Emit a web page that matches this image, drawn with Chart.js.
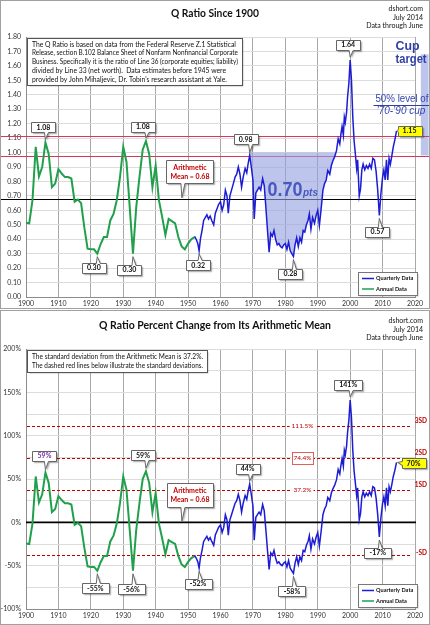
<!DOCTYPE html>
<html>
<head>
<meta charset="utf-8">
<script src="https://cdn.jsdelivr.net/npm/chart.js@4.4.1/dist/chart.umd.min.js"></script>
<style>
  body { margin: 0; background: #fff; }
  #wrap { position: relative; width: 430px; height: 625px; }
  canvas { position: absolute; left: 0; }
</style>
</head>
<body>
<div id="wrap">
  <canvas id="q-chart" width="430" height="309" style="top:0"></canvas>
  <canvas id="pct-chart" width="430" height="315" style="top:310px"></canvas>
</div>
<script>
const qCanvas = document.getElementById("q-chart");
const pctCanvas = document.getElementById("pct-chart");

// annual Q ratio (green, before 1952)
const annualYears = [1900, 1901, 1902, 1903, 1904, 1905, 1906, 1907, 1908, 1909,
    1910, 1911, 1912, 1913, 1914, 1915, 1916, 1917, 1918, 1919,
    1920, 1921, 1922, 1923, 1924, 1925, 1926, 1927, 1928, 1929,
    1930, 1931, 1932, 1933, 1934, 1935, 1936, 1937, 1938, 1939,
    1940, 1941, 1942, 1943, 1944, 1945, 1946, 1947, 1948, 1949,
    1950, 1951, 1952];
const annualQ = [0.515, 0.51, 0.67, 1.04, 0.835, 0.90, 1.07, 0.99, 0.76, 0.785,
    0.885, 0.855, 0.83, 0.83, 0.82, 0.66, 0.675, 0.65, 0.48, 0.335,
    0.33, 0.33, 0.30, 0.365, 0.415, 0.415, 0.53, 0.575, 0.67, 0.83,
    1.04, 0.935, 0.62, 0.30, 0.62, 0.83, 1.02, 1.08, 0.99, 0.76,
    0.91, 0.67, 0.555, 0.43, 0.54, 0.525, 0.51, 0.415, 0.35, 0.33,
    0.37, 0.40, 0.415];

// quarterly Q ratio (blue)
const quarterYears = [1952.0, 1952.5, 1953.0, 1953.4, 1953.8, 1954.3, 1954.8, 1955.3, 1955.8, 1956.3,
    1956.8, 1957.3, 1957.9, 1958.4, 1958.9, 1959.4, 1960.0, 1960.5, 1961.0, 1961.5,
    1962.0, 1962.4, 1962.9, 1963.4, 1963.9, 1964.5, 1965.0, 1965.5, 1966.0, 1966.5,
    1967.0, 1967.6, 1968.1, 1968.5, 1969.0, 1969.5, 1970.0, 1970.4, 1970.9, 1971.4,
    1971.9, 1972.4, 1973.0, 1973.5, 1974.0, 1974.5, 1975.0, 1975.5, 1976.0, 1976.5,
    1977.0, 1977.5, 1978.0, 1978.5, 1979.0, 1979.5, 1980.0, 1980.5, 1981.0, 1981.5,
    1982.0, 1982.5, 1983.0, 1983.5, 1984.0, 1984.5, 1985.0, 1985.5, 1986.0, 1986.5,
    1987.0, 1987.4, 1987.9, 1988.4, 1989.0, 1989.5, 1990.0, 1990.5, 1991.0, 1991.6,
    1992.1, 1992.6, 1993.1, 1993.7, 1994.2, 1994.7, 1995.2, 1995.8, 1996.3, 1996.8,
    1997.1, 1997.5, 1997.9, 1998.2, 1998.5, 1998.9, 1999.2, 1999.6, 2000.0, 2000.4,
    2000.8, 2001.2, 2001.6, 2002.0, 2002.3, 2002.8, 2003.2, 2003.6, 2004.0, 2004.5,
    2005.0, 2005.5, 2006.0, 2006.5, 2007.0, 2007.5, 2008.0, 2008.5, 2009.0, 2009.5,
    2010.0, 2010.4, 2010.8, 2011.2, 2011.6, 2012.0, 2012.4, 2012.8, 2013.3, 2013.8,
    2014.3];
const quarterQ = [0.42, 0.40, 0.37, 0.32, 0.40, 0.46, 0.53, 0.55, 0.57, 0.54,
    0.56, 0.53, 0.50, 0.58, 0.61, 0.64, 0.66, 0.60, 0.64, 0.74,
    0.70, 0.58, 0.70, 0.74, 0.78, 0.83, 0.85, 0.90, 0.85, 0.76,
    0.83, 0.89, 0.86, 0.92, 0.98, 0.90, 0.81, 0.54, 0.72, 0.74,
    0.76, 0.74, 0.82, 0.77, 0.62, 0.46, 0.31, 0.44, 0.42, 0.46,
    0.40, 0.36, 0.37, 0.35, 0.34, 0.36, 0.37, 0.33, 0.38, 0.32,
    0.30, 0.28, 0.36, 0.41, 0.35, 0.41, 0.38, 0.46, 0.45, 0.50,
    0.53, 0.575, 0.47, 0.55, 0.51, 0.565, 0.60, 0.495, 0.60, 0.74,
    0.785, 0.81, 0.875, 0.85, 0.91, 0.945, 0.97, 1.015, 1.095, 1.06,
    1.12, 1.18, 1.12, 1.245, 1.21, 1.28, 1.385, 1.48, 1.64, 1.50,
    1.25, 1.085, 0.99, 0.89, 0.95, 0.70, 0.75, 0.88, 0.92, 0.88,
    0.91, 0.89, 0.92, 0.89, 0.96, 0.95, 0.87, 0.74, 0.565, 0.72,
    0.83, 0.88, 0.81, 0.95, 0.81, 0.96, 0.92, 0.97, 1.04, 1.09,
    1.15];

const qMean = 0.68;
const cupYears = [1969.0, 1995.6];     // '70-'90 cup, left rim to right rim
const cupLevels = [0.98, 0.28];        // rim and bottom
const redLevels = [1.115, 0.975];
const sdLevels = [111.5, 74.4, 37.2, -37.2];
const sdNames = ["3SD", "2SD", "1SD", "-SD"];
const seriesNames = ["Quarterly Data", "Annual Data"];

const pctOf = v => (v / qMean - 1) * 100;
const annualPct = annualQ.map(pctOf);
const quarterPct = quarterQ.map(pctOf);
const pts = (xs, ys) => xs.map((x, i) => ({ x: x, y: ys[i] }));

const FONT = 'Lato, "Open Sans", sans-serif';
const ARIAL = '"Liberation Sans", Arial, sans-serif';
const GREEN = "#21a04c";
const BLUE = "#1c1cd6";
const SHADE = "rgba(150, 162, 224, 0.62)";
const DARKRED = "#c00000";

const qInfo = [
    "The Q Ratio is based on data from the Federal Reserve Z.1 Statistical",
    "Release, section B.102 Balance Sheet of Nonfarm Nonfinancial Corporate",
    "Business. Specifically it is the ratio of Line 36 (corporate equities; liability)",
    "divided by Line 33 (net worth).  Data estimates before 1945 were",
    "provided by John Mihaljevic, Dr. Tobin's research assistant at Yale."
];
const pctInfo = [
    "The standard deviation from the Arithmetic Mean is 37.2%.",
    "The dashed red lines below illustrate the standard deviations."
];

// callouts: anchor in data units, box offset in px
const qNotes = [
    { x: 1906, y: 1.07, t: "1.08", dx: -2, dy: -15 },
    { x: 1937, y: 1.08, t: "1.08", dx: -3, dy: -14 },
    { x: 1969, y: 0.98, t: "0.98", dx: -4, dy: -16 },
    { x: 2000, y: 1.64, t: "1.64", dx: -2, dy: -15 },
    { x: 2014.3, y: 1.15, t: "1.15", dx: 13, dy: 0, fill: "#ffff00", gap: 1 },
    { x: 1922, y: 0.30, t: "0.30", dx: -3.5, dy: 14 },
    { x: 1933, y: 0.30, t: "0.30", dx: -3.5, dy: 16.5 },
    { x: 1953.4, y: 0.32, t: "0.32", dx: -1, dy: 14.5 },
    { x: 1982.5, y: 0.28, t: "0.28", dx: -3, dy: 17 },
    { x: 2009, y: 0.565, t: "0.57", dx: -2, dy: 16.5 },
    { x: 1948.1, y: qMean, t: "Arithmetic\nMean = 0.68", dx: 8, dy: -27, color: DARKRED, w: 47, h: 23, gap: 1 }
];
const pctNotes = [
    { x: 1906, y: pctOf(1.07), t: "59%", dx: -1, dy: -17, color: "#7030a0" },
    { x: 1937, y: pctOf(1.08), t: "59%", dx: -3, dy: -16 },
    { x: 1969, y: pctOf(0.98), t: "44%", dx: -2, dy: -15 },
    { x: 2000, y: pctOf(1.64), t: "141%", dx: -2, dy: -15 },
    { x: 2014.3, y: pctOf(1.15), t: "70%", dx: 17, dy: 1, fill: "#ffff00", gap: 1 },
    { x: 1922, y: pctOf(0.30), t: "-55%", dx: -2, dy: 17.5 },
    { x: 1933, y: pctOf(0.30), t: "-56%", dx: -1.5, dy: 18.5 },
    { x: 1953.4, y: pctOf(0.32), t: "-52%", dx: -1, dy: 16 },
    { x: 1982.5, y: pctOf(0.28), t: "-58%", dx: -1.5, dy: 18 },
    { x: 2009, y: pctOf(0.565), t: "-17%", dx: -1.5, dy: 16 },
    { x: 1948.1, y: 0, t: "Arithmetic\nMean = 0.68", dx: 8, dy: -27, color: DARKRED, w: 46, h: 24, gap: 1 }
];

function callout(ctx, px, py, n) {
    const lines = n.t.split("\n");
    ctx.font = "bold 7px " + FONT;
    const w = n.w || Math.ceil(Math.max(...lines.map(s => ctx.measureText(s).width))) + 10;
    const h = n.h || lines.length * 8 + 2;
    const cx = px + n.dx, cy = py + n.dy;
    const L = Math.round(cx - w / 2) + 0.5, T = Math.round(cy - h / 2) + 0.5;
    const R = L + w, B = T + h;
    const gap = n.gap == null ? 3 : n.gap;
    ctx.beginPath();
    if (n.dy < -h / 2) {
        const bx = Math.min(Math.max(px - 1, L + 3), R - 7);
        ctx.moveTo(L, T); ctx.lineTo(R, T); ctx.lineTo(R, B);
        ctx.lineTo(bx + 4, B); ctx.lineTo(px, py - gap); ctx.lineTo(bx, B);
        ctx.lineTo(L, B);
    } else if (n.dy > h / 2) {
        const bx = Math.min(Math.max(px - 1, L + 3), R - 7);
        ctx.moveTo(L, T); ctx.lineTo(bx, T); ctx.lineTo(px, py + gap); ctx.lineTo(bx + 4, T);
        ctx.lineTo(R, T); ctx.lineTo(R, B); ctx.lineTo(L, B);
    } else {
        ctx.moveTo(L, T); ctx.lineTo(R, T); ctx.lineTo(R, B); ctx.lineTo(L, B);
        ctx.lineTo(L, cy + 2); ctx.lineTo(px + gap, py); ctx.lineTo(L, cy - 2);
    }
    ctx.closePath();
    ctx.save();
    ctx.shadowColor = "rgba(0,0,0,0.35)";
    ctx.shadowOffsetX = 1.5;
    ctx.shadowOffsetY = 1.5;
    ctx.shadowBlur = 1.5;
    ctx.fillStyle = n.fill || "#fff";
    ctx.fill();
    ctx.restore();
    ctx.strokeStyle = "#666";
    ctx.lineWidth = 1;
    ctx.stroke();
    ctx.fillStyle = n.color || "#111";
    ctx.textAlign = "center";
    ctx.textBaseline = "middle";
    lines.forEach((s, i) => ctx.fillText(s, cx, cy + (i - (lines.length - 1) / 2) * 9));
}

function textBox(ctx, L, T, W, H, lines, lh) {
    ctx.save();
    ctx.shadowColor = "rgba(0,0,0,0.35)";
    ctx.shadowOffsetX = 1.5;
    ctx.shadowOffsetY = 1.5;
    ctx.shadowBlur = 1.5;
    ctx.fillStyle = "#fff";
    ctx.fillRect(L, T, W, H);
    ctx.restore();
    ctx.strokeStyle = "#555";
    ctx.lineWidth = 1;
    ctx.strokeRect(L + 0.5, T + 0.5, W, H);
    ctx.fillStyle = "#111";
    ctx.font = "6.8px " + FONT;
    ctx.textAlign = "left";
    ctx.textBaseline = "middle";
    lines.forEach((s, i) => ctx.fillText(s, L + 5, T + 6.5 + i * lh, W - 9));
}

function headings(ctx, chart, title, ty, tw, ys) {
    ctx.fillStyle = "#111";
    ctx.textBaseline = "middle";
    ctx.textAlign = "center";
    ctx.font = "bold 11px " + FONT;
    ctx.fillText(title, chart.width / 2, ty, tw);
    ctx.textAlign = "right";
    ctx.font = "7px " + FONT;
    ["dshort.com", "July 2014", "Data through June"].forEach((s, i) => ctx.fillText(s, chart.width - 7, ys[i]));
}

function legendBox(ctx, chart, L, T) {
    ctx.save();
    ctx.shadowColor = "rgba(0,0,0,0.35)";
    ctx.shadowOffsetX = 1.5;
    ctx.shadowOffsetY = 1.5;
    ctx.shadowBlur = 1.5;
    ctx.fillStyle = "#fff";
    ctx.fillRect(L, T, 59, 23);
    ctx.restore();
    ctx.strokeStyle = "#777";
    ctx.lineWidth = 1;
    ctx.strokeRect(L + 0.5, T + 0.5, 59, 23);
    ctx.font = "bold 5.6px " + FONT;
    ctx.textAlign = "left";
    ctx.textBaseline = "middle";
    chart.data.datasets.slice(0, 2).forEach((ds, i) => {
        const yy = T + 6.5 + i * 10.5;
        ctx.strokeStyle = ds.borderColor;
        ctx.lineWidth = 1.5;
        ctx.beginPath();
        ctx.moveTo(L + 4, yy);
        ctx.lineTo(L + 16, yy);
        ctx.stroke();
        ctx.fillStyle = "#111";
        ctx.fillText(ds.label, L + 18, yy, 39);
    });
}

function frame(ctx, chart) {
    ctx.strokeStyle = "#a0a0a0";
    ctx.lineWidth = 1;
    ctx.strokeRect(0.5, 0.5, chart.width - 1, chart.height - 1);
}

const qExtras = {
    id: "qExtras",
    beforeDatasetsDraw(chart) {
        const { ctx, chartArea: a, scales: { x, y } } = chart;
        const depth = cupLevels[0] - cupLevels[1];
        ctx.save();
        // cup target bar beyond 2020
        const x0 = x.getPixelForValue(2021.8), x1 = x.getPixelForValue(2024.2);
        const yt = y.getPixelForValue(cupLevels[0] + depth), yb = y.getPixelForValue(cupLevels[0]);
        ctx.fillStyle = SHADE;
        ctx.fillRect(x0, yt, x1 - x0, yb - yt);
        // red guide lines
        ctx.strokeStyle = "#d9365b";
        ctx.lineWidth = 1;
        redLevels.forEach(v => {
            const py = Math.round(y.getPixelForValue(v)) + 0.5;
            ctx.beginPath(); ctx.moveTo(1, py); ctx.lineTo(chart.width - 1, py); ctx.stroke();
        });
        // mean
        const my = Math.round(y.getPixelForValue(qMean)) + 0.5;
        ctx.strokeStyle = "#000";
        ctx.beginPath(); ctx.moveTo(1, my); ctx.lineTo(a.right + 1, my); ctx.stroke();
        // 50% level of the cup
        const hy = Math.round(y.getPixelForValue(cupLevels[0] + depth / 2)) + 0.5;
        ctx.strokeStyle = "#2f3fa6";
        ctx.beginPath(); ctx.moveTo(x.getPixelForValue(2007.2), hy); ctx.lineTo(chart.width, hy); ctx.stroke();
        ctx.restore();
    },
    afterDraw(chart) {
        const { ctx, chartArea: a, scales: { x, y } } = chart;
        ctx.save();
        headings(ctx, chart, "Q Ratio Since 1900", 13, 88, [9, 17.5, 26]);
        textBox(ctx, a.left + 1, a.top + 1, 215, 47, qInfo, 8.8);

        // 0.70pts
        const depth = cupLevels[0] - cupLevels[1];
        const lx = x.getPixelForValue(1974.5), ly = y.getPixelForValue(0.697);
        ctx.fillStyle = "#4858c0";
        ctx.textAlign = "left";
        ctx.textBaseline = "alphabetic";
        ctx.font = "bold 20px " + ARIAL;
        ctx.fillText(depth.toFixed(2), lx, ly, 35);
        ctx.font = "italic bold 10px " + ARIAL;
        ctx.fillText("pts", lx + 35.5, ly, 17);

        // cup target / 50% level text
        ctx.fillStyle = "#2f3fa6";
        ctx.font = "bold 13px " + ARIAL;
        ctx.fillText("Cup", x.getPixelForValue(2014.0), y.getPixelForValue(1.708), 24);
        ctx.fillText("target", x.getPixelForValue(2014.0), y.getPixelForValue(1.618), 31);
        ctx.fillStyle = "#3544b0";
        ctx.font = "10px " + ARIAL;
        ctx.fillText("50% level of", x.getPixelForValue(2007.8), y.getPixelForValue(1.348), 53);
        ctx.font = "italic 10px " + ARIAL;
        ctx.fillText("\u201970-\u201990 cup", x.getPixelForValue(2008.1), y.getPixelForValue(1.268), 54);

        qNotes.forEach(n => callout(ctx, x.getPixelForValue(n.x), y.getPixelForValue(n.y), n));
        legendBox(ctx, chart, a.right - 57, a.bottom - 25);
        frame(ctx, chart);
        ctx.restore();
    }
};

const pctExtras = {
    id: "pctExtras",
    beforeDatasetsDraw(chart) {
        const { ctx, chartArea: a, scales: { x, y } } = chart;
        ctx.save();
        ctx.strokeStyle = DARKRED;
        ctx.lineWidth = 1;
        ctx.setLineDash([3, 2]);
        sdLevels.forEach(v => {
            const py = Math.round(y.getPixelForValue(v)) + 0.5;
            ctx.beginPath(); ctx.moveTo(a.left + 1, py); ctx.lineTo(x.getPixelForValue(2019), py); ctx.stroke();
        });
        ctx.setLineDash([]);
        const zy = y.getPixelForValue(0);
        ctx.strokeStyle = "#000";
        ctx.lineWidth = 1.6;
        ctx.beginPath(); ctx.moveTo(a.left, zy); ctx.lineTo(a.right + 1, zy); ctx.stroke();
        ctx.restore();
    },
    afterDraw(chart) {
        const { ctx, chartArea: a, scales: { x, y } } = chart;
        ctx.save();
        headings(ctx, chart, "Q Ratio Percent Change from Its Arithmetic Mean", 15, 232, [11, 20, 28]);
        textBox(ctx, a.left + 1, a.top + 1, 180, 22, pctInfo, 9);

        // standard deviation labels
        const lx = x.getPixelForValue(1985.3);
        ctx.font = "6.5px " + FONT;
        ctx.textAlign = "center";
        ctx.textBaseline = "middle";
        sdLevels.slice(0, 3).forEach((v, i) => {
            const py = y.getPixelForValue(v);
            const s = v.toFixed(1) + "%";
            const w = ctx.measureText(s).width + 4;
            ctx.fillStyle = "#fff";
            ctx.fillRect(lx - w / 2, py - 4, w, 8);
            if (i === 1) {
                ctx.fillRect(lx - 11, py - 6, 21, 12);
                ctx.strokeStyle = "#e06060";
                ctx.lineWidth = 1;
                ctx.strokeRect(Math.round(lx - 11) + 0.5, Math.round(py - 6) + 0.5, 21, 12);
            }
            ctx.fillStyle = DARKRED;
            ctx.fillText(s, lx, py);
        });
        ctx.font = "bold 6.5px " + FONT;
        ctx.textAlign = "right";
        sdLevels.forEach((v, i) => {
            ctx.fillText(sdNames[i], chart.width - 3, y.getPixelForValue(v) - (v > 0 ? 5 : 2));
        });

        pctNotes.forEach(n => callout(ctx, x.getPixelForValue(n.x), y.getPixelForValue(n.y), n));
        legendBox(ctx, chart, a.right - 57, a.bottom - 25);
        frame(ctx, chart);
        ctx.restore();
    }
};

const xAxis = (h) => ({
    type: "linear",
    min: 1900,
    max: 2020,
    afterFit: s => { s.height = h; },
    border: { color: "#8c8c8c" },
    grid: { color: "#a8a8a8", drawTicks: false },
    ticks: {
        stepSize: 10,
        padding: 3,
        color: "#333",
        font: { family: FONT, size: 7 },
        callback: v => String(v)
    }
});

const qChart = new Chart(qCanvas, {
    type: "line",
    data: {
        datasets: [{
            label: seriesNames[0],
            data: pts(quarterYears, quarterQ),
            borderColor: BLUE,
            borderWidth: 1.5,
            pointRadius: 0,
            tension: 0,
            fill: false
        }, {
            label: seriesNames[1],
            data: pts(annualYears, annualQ),
            borderColor: GREEN,
            borderWidth: 2,
            pointRadius: 0,
            tension: 0,
            fill: false
        }, {
            label: "cup",
            data: pts(cupYears, [1.0, 1.0]),
            borderWidth: 0,
            borderColor: "rgba(0,0,0,0)",
            pointRadius: 0,
            fill: { target: 0, above: SHADE, below: "rgba(0,0,0,0)" }
        }]
    },
    options: {
        responsive: false,
        animation: false,
        devicePixelRatio: 1,
        layout: { padding: { left: 0, right: 15, top: 37, bottom: 0 } },
        scales: {
            x: xAxis(12),
            y: {
                min: 0,
                max: 1.8,
                afterFit: s => { s.width = 26; },
                border: { color: "#8c8c8c" },
                grid: { color: "#dcdcdc", drawTicks: false },
                ticks: {
                    stepSize: 0.1,
                    padding: 5,
                    color: "#333",
                    font: { family: FONT, size: 7 },
                    callback: v => v.toFixed(2)
                }
            }
        },
        plugins: {
            legend: { display: false },
            tooltip: { enabled: false },
            filler: { propagate: false }
        }
    },
    plugins: [qExtras]
});

const pctChart = new Chart(pctCanvas, {
    type: "line",
    data: {
        datasets: [{
            label: seriesNames[0],
            data: pts(quarterYears, quarterPct),
            borderColor: BLUE,
            borderWidth: 1.5,
            pointRadius: 0,
            tension: 0,
            fill: false
        }, {
            label: seriesNames[1],
            data: pts(annualYears, annualPct),
            borderColor: GREEN,
            borderWidth: 2,
            pointRadius: 0,
            tension: 0,
            fill: false
        }]
    },
    options: {
        responsive: false,
        animation: false,
        devicePixelRatio: 1,
        layout: { padding: { left: 0, right: 15, top: 39, bottom: 0 } },
        scales: {
            x: xAxis(16),
            y: {
                min: -100,
                max: 200,
                afterFit: s => { s.width = 26; },
                border: { color: "#8c8c8c" },
                grid: { color: "#dcdcdc", drawTicks: false },
                ticks: {
                    stepSize: 25,
                    padding: 5,
                    color: "#333",
                    font: { family: FONT, size: 7 },
                    callback: v => (v % 50 === 0 ? v + "%" : "")
                }
            }
        },
        plugins: {
            legend: { display: false },
            tooltip: { enabled: false }
        }
    },
    plugins: [pctExtras]
});
</script>
</body>
</html>
